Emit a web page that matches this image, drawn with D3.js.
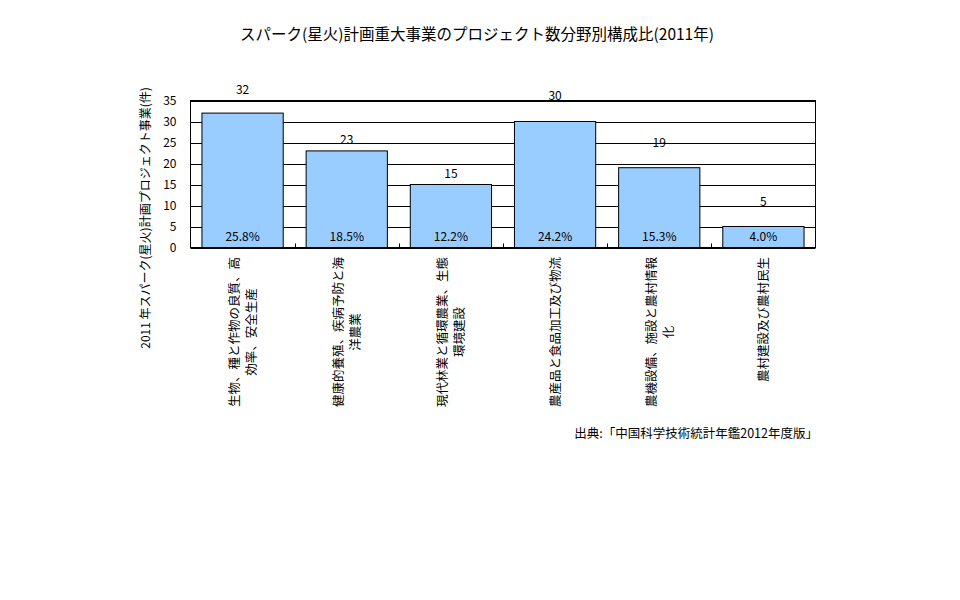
<!DOCTYPE html>
<html><head><meta charset="utf-8">
<script src="https://cdn.jsdelivr.net/npm/d3@7"></script>
<style>
body{margin:0;background:#fff;}
text{font-family:"Noto Sans CJK JP","Noto Sans",sans-serif;fill:#000;}
</style></head>
<body><svg id="c" width="960" height="600"></svg>
<script>
// ---- data ----
const categories = [
  ["生物、種と作物の良質、高","効率、安全生産"],
  ["健康的養殖、疾病予防と海","洋農業"],
  ["現代林業と循環農業、生態","環境建設"],
  ["農産品と食品加工及び物流"],
  ["農機設備、施設と農村情報","化"],
  ["農村建設及び農村民生"]
];
const counts = [32, 23, 15, 30, 19, 5];
const shares = ["25.8%", "18.5%", "12.2%", "24.2%", "15.3%", "4.0%"];
const yTicks = [0, 5, 10, 15, 20, 25, 30, 35];
const titleText = "スパーク(星火)計画重大事業のプロジェクト数分野別構成比(2011年)";
const yTitle = "2011 年スパーク(星火)計画プロジェクト事業(件)";
const sourceText = "出典:「中国科学技術統計年鑑2012年度版」";
// label lift above bar top (px), as placed in the original
const labelLift = [23, 11, 11, 26, 25, 25];

// ---- layout ----
const svg = d3.select("#c");
const L = 190.5, R = 815.5, T = 100.5, B = 247.5;
const x = d3.scaleBand().domain(d3.range(counts.length)).range([L, R]).paddingInner(0.22).paddingOuter(0.11);
const xb = d3.scaleBand().domain(d3.range(counts.length)).range([L, R]);
const y = d3.scaleLinear().domain([0, 35]).range([B, T]);

// title
svg.append("text").attr("x", 477).attr("y", 40).attr("text-anchor", "middle")
  .style("font-size", "15.5px").text(titleText);

// gridlines
svg.append("g").selectAll("line").data(yTicks).join("line")
  .attr("x1", L).attr("x2", R).attr("y1", d => Math.round(y(d)) + 0.5).attr("y2", d => Math.round(y(d)) + 0.5)
  .attr("stroke", "#000").attr("stroke-width", 1);

// frame
svg.append("rect").attr("x", L).attr("y", T).attr("width", R - L).attr("height", B - T)
  .attr("fill", "none").attr("stroke", "#000").attr("stroke-width", 1);

// bars
svg.append("g").selectAll("rect").data(counts).join("rect")
  .attr("x", (d, i) => x(i)).attr("width", x.bandwidth())
  .attr("y", d => y(d)).attr("height", d => B - y(d))
  .attr("fill", "#99CCFF").attr("stroke", "#000").attr("stroke-width", 1);

// inward ticks at band boundaries
svg.append("g").selectAll("line").data(d3.range(1, counts.length)).join("line")
  .attr("x1", i => Math.round(xb(i)) + 0.5).attr("x2", i => Math.round(xb(i)) + 0.5)
  .attr("y1", B).attr("y2", B - 4).attr("stroke", "#000");

// y axis labels
const yAxis = d3.axisLeft(y).tickValues(yTicks).tickSize(0).tickPadding(14);
const ya = svg.append("g").attr("transform", `translate(${L},0)`).call(yAxis);
ya.select(".domain").remove();
ya.selectAll("text").style("font-size", "12px").style("font-family", '"Noto Sans CJK JP",sans-serif');

// value labels
svg.append("g").selectAll("text").data(counts).join("text")
  .attr("x", (d, i) => x(i) + x.bandwidth() / 2)
  .attr("y", (d, i) => y(d) - labelLift[i] + 4)
  .attr("text-anchor", "middle").style("font-size", "12px").text(d => d);

// share labels
svg.append("g").selectAll("text").data(shares).join("text")
  .attr("x", (d, i) => x(i) + x.bandwidth() / 2)
  .attr("y", B - 7)
  .attr("text-anchor", "middle").style("font-size", "12px").text(d => d);

// category labels (rotated, centered lines, top-anchored)
const fs = 12.5, lh = 17;
categories.forEach((lines, i) => {
  const cx = x(i) + x.bandwidth() / 2;
  const n = lines.length;
  const g = svg.append("g");
  lines.forEach((s, k) => {
    const lx = cx + (k - (n - 1) / 2) * lh + fs * 0.38;
    g.append("text").attr("transform", `translate(${lx},${257}) rotate(-90)`)
      .attr("text-anchor", "end").style("font-size", fs + "px").text(s);
  });
  // center shorter lines relative to longest
  const nodes = g.selectAll("text").nodes();
  const widths = nodes.map(nd => nd.getComputedTextLength());
  const wmax = d3.max(widths);
  nodes.forEach((nd, k) => {
    const off = (wmax - widths[k]) / 2;
    const lx = cx + (k - (n - 1) / 2) * lh + fs * 0.38;
    d3.select(nd).attr("transform", `translate(${lx},${257 + off}) rotate(-90)`);
  });
});

// y title
svg.append("text").attr("transform", `translate(${150},${218}) rotate(-90)`)
  .attr("text-anchor", "middle").style("font-size", "12px").text(yTitle);

// source
svg.append("text").attr("x", 818).attr("y", 438).attr("text-anchor", "end")
  .style("font-size", "12.5px").text(sourceText);
</script></body></html>
